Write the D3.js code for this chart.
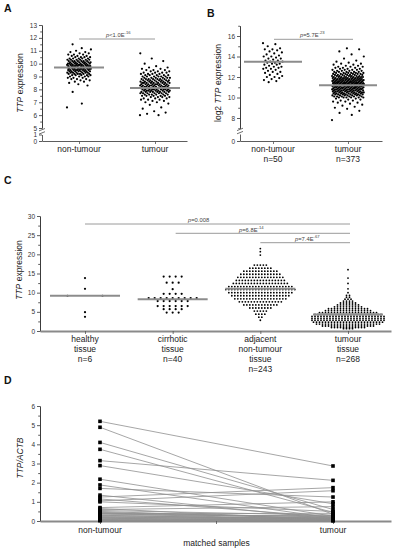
<!DOCTYPE html>
<html>
<head>
<meta charset="utf-8">
<script src="https://cdn.jsdelivr.net/npm/d3@7"></script>
<style>
  body { margin: 0; background: #fff; }
  svg { display: block; }
</style>
</head>
<body>
<svg id="fig" width="396" height="550"></svg>
<script>
// ---- data ----
// rows are [value, how many samples sit at that value]
const groupsA = ["non-tumour", "tumour"]
const aNonTumour = [[6.6,1],[6.9,1],[7.8,1],[8.3,1],[8.4,1],[8.5,1],[8.6,2],[8.7,2],[8.8,3],[8.9,3],[9.0,4],[9.1,5],[9.2,6],[9.3,7],[9.4,8],[9.5,9],[9.6,10],[9.7,10],[9.8,10],[9.9,9],[10.0,9],[10.1,8],[10.2,7],[10.3,6],[10.4,5],[10.5,4],[10.6,3],[10.7,3],[10.8,2],[10.9,2],[11.0,1],[11.1,1],[11.2,1],[11.5,1]]
const aTumour = [[6.0,2],[6.1,1],[6.2,1],[6.3,1],[6.5,1],[6.6,1],[6.8,1],[6.9,1],[7.0,2],[7.1,2],[7.2,3],[7.3,3],[7.4,4],[7.5,5],[7.6,6],[7.7,7],[7.8,8],[7.9,9],[8.0,10],[8.1,10],[8.2,10],[8.3,10],[8.4,9],[8.5,9],[8.6,8],[8.7,8],[8.8,7],[8.9,6],[9.0,6],[9.1,5],[9.2,4],[9.3,4],[9.4,3],[9.5,3],[9.6,2],[9.7,2],[9.8,1],[10.0,1],[10.2,1],[10.4,1],[10.8,1]]
const aMeans = [9.7, 8.1]
const aTicks = [5, 6, 7, 8, 9, 10, 11, 12, 13]

const groupsB = ["non-tumour", "tumour"]
const bCounts = ["n=50", "n=373"]
const bNonTumour = [[15.3,1],[15.2,1],[15.0,1],[14.8,1],[14.7,2],[14.6,1],[14.5,1],[14.4,1],[14.3,1],[14.2,1],[14.1,1],[14.0,2],[13.9,1],[13.8,2],[13.7,1],[13.6,2],[13.5,2],[13.4,2],[13.3,2],[13.2,2],[13.1,1],[13.0,2],[12.9,2],[12.8,2],[12.7,1],[12.6,1],[12.5,2],[12.4,1],[12.3,1],[12.2,1],[12.1,1],[12.0,2],[11.9,1],[11.8,1],[11.7,1],[11.6,1],[11.5,1]]
const bTumour = [[7.8,1],[8.3,1],[8.5,1],[8.7,1],[8.9,1],[9.0,1],[9.1,1],[9.2,1],[9.3,1],[9.4,1],[9.5,2],[9.6,2],[9.7,2],[9.8,2],[9.9,2],[10.0,6],[10.1,6],[10.2,7],[10.3,8],[10.4,8],[10.5,9],[10.6,10],[10.7,10],[10.8,11],[10.9,11],[11.0,12],[11.1,12],[11.2,12],[11.3,12],[11.4,12],[11.5,12],[11.6,11],[11.7,11],[11.8,10],[11.9,10],[12.0,9],[12.1,8],[12.2,7],[12.3,6],[12.4,6],[12.5,5],[12.6,4],[12.7,4],[12.8,3],[12.9,3],[13.0,3],[13.1,2],[13.2,2],[13.3,2],[13.4,1],[13.5,1],[13.6,1],[13.8,1],[14.0,1],[14.2,1],[14.5,1],[14.7,1],[14.8,1]]
const bMeans = [13.5, 11.2]
const bTicks = [8, 10, 12, 14, 16]

const groupsC = [["healthy", "tissue", "n=6"], ["cirrhotic", "tissue", "n=40"], ["adjacent", "non-tumour", "tissue", "n=243"], ["tumour", "tissue", "n=268"]]
const cHealthy = [[13.8,1],[11.0,1],[9.2,2],[4.9,1],[3.7,1]]
const cCirrhotic = [[14.2,4],[12.6,3],[10.9,1],[9.7,4],[8.6,9],[7.8,6],[6.5,6],[5.7,4],[4.8,3]]
const cAdjacent = [[21.5,1],[20.7,1],[19.8,1],[17.2,5],[16.4,8],[15.6,12],[14.8,14],[14.0,16],[13.2,17],[12.4,19],[11.6,22],[10.8,24],[10.0,22],[9.2,20],[8.4,18],[7.6,15],[6.8,12],[6.0,8],[5.2,5],[4.4,4],[3.6,2],[2.8,1]]
const cTumour = [[16.0,1],[13.8,1],[12.4,1],[11.0,1],[10.0,1],[9.3,2],[8.8,2],[8.3,3],[7.8,4],[7.3,6],[6.8,8],[6.3,10],[5.8,14],[5.3,16],[4.8,20],[4.3,23],[3.8,25],[3.3,25],[2.8,25],[2.3,24],[1.8,22],[1.3,18],[0.9,12],[0.6,4]]
const cMeans = [9.2, 8.3, 11.0, 4.3]
const cTicks = [0, 5, 10, 15, 20, 25, 30]
// comparisons: [from group, to group, label, exponent]
const cTests = [[0, 3, "p=0.008", ""], [1, 3, "p=6.8E", "-14"], [2, 3, "p=7.4E", "-67"]]

const groupsD = ["non-tumour", "tumour"]
const dNonTumour = [5.2,4.89,4.1,3.74,3.15,2.89,2.18,1.88,1.7,1.35,1.25,1.15,1.05,1.0,0.7,0.65,0.6,0.55,0.5,0.45,0.42,0.4,0.38,0.35,0.3,0.28,0.25,0.22,0.2,0.18,0.15,0.12,0.1,0.08,0.06,0.05,0.03,0.02]
const dTumour = [2.87,0.35,0.6,0.45,2.12,0.9,0.25,0.15,1.25,0.1,1.74,0.2,1.58,0.5,1.0,0.05,0.75,0.3,0.1,0.2,0.15,0.05,0.4,0.25,0.08,0.12,0.3,0.05,0.18,0.1,0.02,0.22,0.06,0.14,0.03,0.1,0.04,0.02]
const dTicks = [0, 1, 2, 3, 4, 5, 6]

// ---- helpers ----
const font = '"Liberation Sans", Arial, sans-serif'
const svg = d3.select("#fig").attr("font-family", font)
const meanGrey = "#8c8c8c"

const expand = rows => rows.flatMap(([v, n]) => d3.range(n).map(() => v))
// spread points sideways with a golden-ratio sequence (layout only)
const jitter = (i, half) => (((i * 0.618034) % 1) - 0.5) * 2 * half

// point scale whose outer end points sit on the axis ends
function pointScale(domain, left, right, first, last) {
  const n = domain.length
  const step = (last - first) / (n - 1)
  const span = right - left
  return d3.scalePoint().domain(domain).range([left, right])
    .padding((span / step - (n - 1)) / 2)
    .align((first - left) / (span - step * (n - 1)))
}

function styleAxis(g, col = "#333", w = 0.8) {
  g.attr("font-size", 6.5).attr("font-family", font)
  g.select(".domain").attr("stroke", col).attr("stroke-width", w)
  g.selectAll(".tick line").attr("stroke", "#333").attr("stroke-width", 0.8)
  g.selectAll(".tick text").attr("fill", "#333")
}

function yAxis(x, scale, ticks, minor) {
  const g = svg.append("g").attr("transform", `translate(${x},0)`)
  g.call(d3.axisLeft(scale).tickValues(ticks).tickFormat(d3.format("d"))
    .tickSize(3).tickPadding(2).tickSizeOuter(0))
  styleAxis(g)
  if (minor) {
    const m = svg.append("g").attr("transform", `translate(${x},0)`)
    m.call(d3.axisLeft(scale).tickValues(minor).tickSize(1.8).tickFormat("").tickSizeOuter(0))
    styleAxis(m)
  }
}

function xAxis(y, scale, col, w, extra = []) {
  const g = svg.append("g").attr("transform", `translate(0,${y})`)
  g.call(d3.axisBottom(scale).tickSize(3).tickFormat("").tickSizeOuter(0))
  styleAxis(g, col, w)
  g.selectAll(".tick line").attr("stroke", "#555")
  extra.forEach(x => g.append("line").attr("x1", x).attr("x2", x).attr("y1", 0).attr("y2", 3)
    .attr("stroke", "#555").attr("stroke-width", 0.8))
}

function axisBreak(x, y) {
  svg.append("rect").attr("x", x - 3).attr("y", y - 1.6).attr("width", 6).attr("height", 3.2).attr("fill", "#fff")
  ;[-1.6, 1.6].forEach(d => svg.append("line")
    .attr("x1", x - 3).attr("y1", y + d + 1.2).attr("x2", x + 3).attr("y2", y + d - 1.2)
    .attr("stroke", "#333").attr("stroke-width", 0.7))
}

function yTitle(x, y, parts) {
  const t = svg.append("text").attr("transform", `translate(${x},${y}) rotate(-90)`)
    .attr("text-anchor", "middle").attr("font-size", 8.5).attr("fill", "#222")
  parts.forEach(([s, it]) => t.append("tspan").text(s).attr("font-style", it ? "italic" : "normal"))
}

function pLabel(x, y, main, sup) {
  const t = svg.append("text").attr("x", x).attr("y", y).attr("font-size", 5.8).attr("fill", "#444")
  t.append("tspan").text("p").attr("font-style", "italic")
  t.append("tspan").text(main.slice(1))
  if (sup) t.append("tspan").text(sup).attr("font-size", 4.2).attr("dy", -2.6)
}

function catLabels(scale, groups, y0) {
  groups.forEach((lines, i) => {
    const t = svg.append("text").attr("text-anchor", "middle").attr("font-size", 8.5).attr("fill", "#222")
    lines.forEach((s, k) => t.append("tspan").attr("x", scale(scale.domain()[i])).attr("y", y0 + k * 10).text(s))
  })
}

function panelLetter(x, y, s) {
  svg.append("text").attr("x", x).attr("y", y).text(s)
    .attr("font-size", 10.5).attr("font-weight", "bold").attr("fill", "#111")
}

function meanLine(x, half, y) {
  svg.append("line").attr("x1", x - half).attr("x2", x + half).attr("y1", y).attr("y2", y)
    .attr("stroke", meanGrey).attr("stroke-width", 2)
}

function sigLine(x1, x2, y) {
  svg.append("line").attr("x1", x1).attr("x2", x2).attr("y1", y).attr("y2", y)
    .attr("stroke", "#9a9a9a").attr("stroke-width", 1)
}

// ---- panel A ----
panelLetter(4, 12, "A")
const xA = pointScale(groupsA, 42, 187, 79, 155)
const yAUp = d3.scaleLinear().domain([5, 13]).range([128, 25])
const yALow = d3.scaleLinear().domain([0, 1]).range([141, 134.5])
yAxis(42, yAUp, aTicks, d3.range(5.5, 13, 1))
yAxis(42, yALow, [0, 1])
axisBreak(42, 131.3)
xAxis(141, xA, "#333", 0.8)
const aSpread = [12, 15]
;[aNonTumour, aTumour].forEach((rows, gi) => {
  svg.append("g").selectAll("circle").data(expand(rows)).join("circle")
    .attr("cx", (d, i) => xA(groupsA[gi]) + jitter(i, aSpread[gi]))
    .attr("cy", d => yAUp(d)).attr("r", 1.1).attr("fill", "#000")
})
aMeans.forEach((m, gi) => meanLine(xA(groupsA[gi]), 25, yAUp(m)))
sigLine(xA(groupsA[0]), xA(groupsA[1]), 39)
pLabel(106, 36.5, "p<1.0E", "-16")
yTitle(23, 83, [["TTP", true], [" expression", false]])
catLabels(xA, groupsA.map(g => [g]), 152)

// ---- panel B ----
panelLetter(207, 17, "B")
const xB = pointScale(groupsB, 240, 382, 273, 348)
const yBUp = d3.scaleLinear().domain([7, 17]).range([128.25, 25.75])
const yBLow = d3.scaleLinear().domain([0, 0.7]).range([141, 134])
yAxis(240, yBUp, bTicks, [7, 9, 11, 13, 15, 17])
yAxis(240, yBLow, [0])
axisBreak(240, 131)
xAxis(141, xB, "#333", 0.8)
const bSpread = [10, 16]
;[bNonTumour, bTumour].forEach((rows, gi) => {
  svg.append("g").selectAll("circle").data(expand(rows)).join("circle")
    .attr("cx", (d, i) => xB(groupsB[gi]) + jitter(i, bSpread[gi]))
    .attr("cy", d => yBUp(d)).attr("r", 1.1).attr("fill", "#000")
})
bMeans.forEach((m, gi) => meanLine(xB(groupsB[gi]), 29, yBUp(m)))
sigLine(xB(groupsB[0]) + 1, xB(groupsB[1]) + 5, 39.3)
pLabel(300, 36.5, "p=5.7E", "-23")
yTitle(221, 83, [["log2 ", false], ["TTP", true], [" expression", false]])
catLabels(xB, groupsB.map((g, i) => [g, bCounts[i]]), 152)

// ---- panel C ----
panelLetter(4, 184, "C")
const cKeys = groupsC.map(g => g.join(" "))
const xC = pointScale(cKeys, 40, 391, 85, 348)
const yC = d3.scaleLinear().domain([0, 30]).range([331, 216])
yAxis(40, yC, cTicks, d3.range(2.5, 30, 5))
xAxis(331, xC, "#8a8a8a", 1.8)
const cSpacing = [35, 6, 3, 3]
const cRadius = [1.1, 1.1, 0.9, 0.9]
;[cHealthy, cCirrhotic, cAdjacent, cTumour].forEach((rows, gi) => {
  const pts = rows.flatMap(([v, n]) => d3.range(n).map(k => ({ v, off: (k - (n - 1) / 2) * cSpacing[gi] })))
  svg.append("g").selectAll("circle").data(pts).join("circle")
    .attr("cx", d => xC(cKeys[gi]) + d.off)
    .attr("cy", d => yC(d.v)).attr("r", cRadius[gi]).attr("fill", "#000")
})
cMeans.forEach((m, gi) => meanLine(xC(cKeys[gi]), 35, yC(m)))
const sigY = [224, 233.3, 242.7]
const sigText = [188, 239, 295]
cTests.forEach(([a, b, lab, sup], i) => {
  sigLine(xC(cKeys[a]) + (a === 1 ? 3 : 0), xC(cKeys[b]) + 2, sigY[i])
  pLabel(sigText[i], sigY[i] - 1.8, lab, sup)
})
yTitle(22, 270, [["TTP", true], [" expression", false]])
catLabels(xC, groupsC, 342)

// ---- panel D ----
panelLetter(4, 384, "D")
const xD = pointScale(groupsD, 40, 391, 100, 333)
const yD = d3.scaleLinear().domain([0, 6]).range([521, 406])
const pairs = dNonTumour.map((v, i) => [v, dTumour[i]])
svg.append("g").selectAll("line").data(pairs).join("line")
  .attr("x1", xD(groupsD[0])).attr("x2", xD(groupsD[1]))
  .attr("y1", d => yD(d[0])).attr("y2", d => yD(d[1]))
  .attr("stroke", "#8f8f8f").attr("stroke-width", 0.8)
yAxis(40, yD, dTicks, d3.range(0.5, 6, 1))
xAxis(521, xD, "#8a8a8a", 1.8, [(xD(groupsD[0]) + xD(groupsD[1])) / 2])
;[dNonTumour, dTumour].forEach((vals, gi) => {
  svg.append("g").selectAll("rect").data(vals).join("rect")
    .attr("x", xD(groupsD[gi]) - 1.8).attr("y", d => yD(d) - 1.8)
    .attr("width", 3.6).attr("height", 3.6).attr("fill", "#000")
})
yTitle(23, 458, [["TTP/ACTB", true]])
catLabels(xD, groupsD.map(g => [g]), 533)
svg.append("text").attr("x", (xD(groupsD[0]) + xD(groupsD[1])) / 2).attr("y", 546)
  .attr("text-anchor", "middle").attr("font-size", 8.5).attr("fill", "#222").text("matched samples")
</script>
</body>
</html>
